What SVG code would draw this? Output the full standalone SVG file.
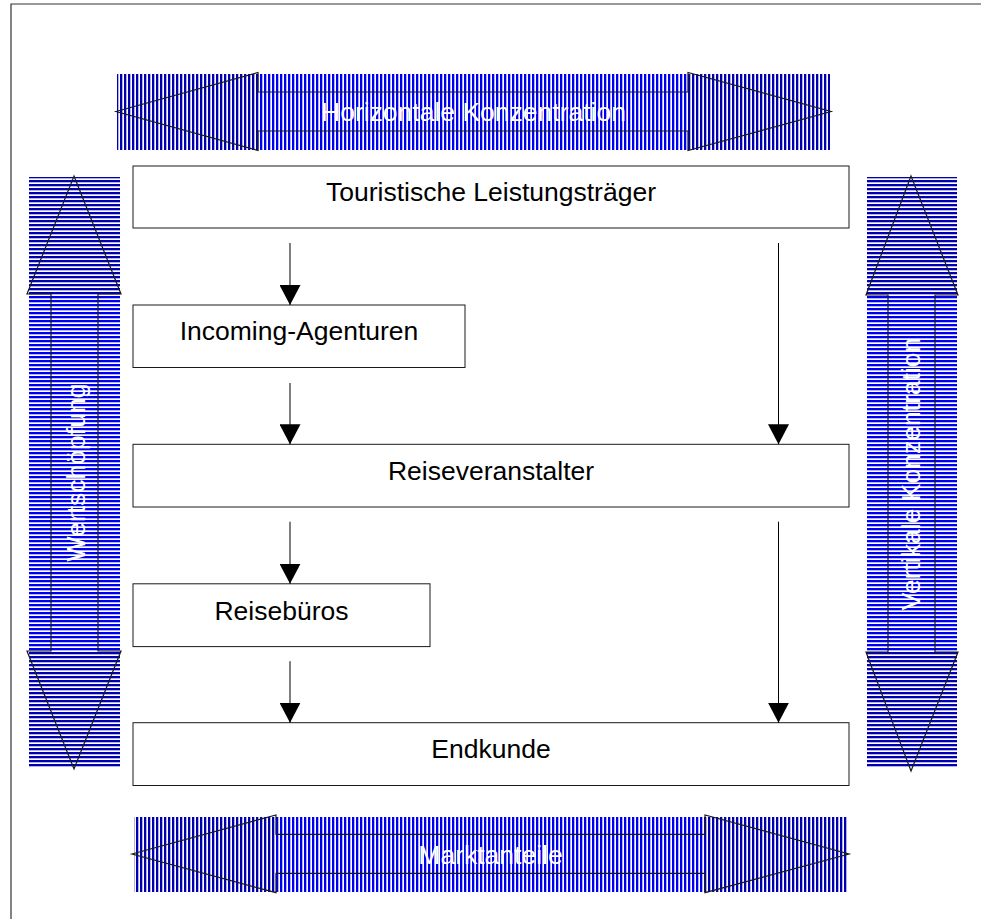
<svg xmlns="http://www.w3.org/2000/svg" width="981" height="919" viewBox="0 0 981 919">
<defs>
<style>
.box{fill:#fff;stroke:#1a1a1a;stroke-width:1}
.lbl{font-family:"Liberation Sans",Arial,sans-serif;font-size:26.5px;fill:#000;text-anchor:middle}
.wl{font-family:"Liberation Sans",Arial,sans-serif;font-size:26.5px;fill:#fff;text-anchor:middle}
.out{fill:none;stroke:#1a1a1a;stroke-width:1.2}
.con{stroke:#000;stroke-width:1;fill:none}
</style>
<pattern id="vDark" width="4" height="4" patternUnits="userSpaceOnUse"><rect width="2.3" height="4" fill="#0000b0"/></pattern>
<pattern id="vBright" width="4" height="4" patternUnits="userSpaceOnUse"><rect width="2.3" height="4" fill="#0000f0"/></pattern>
<pattern id="hDark" width="4" height="4" patternUnits="userSpaceOnUse"><rect width="4" height="2.3" fill="#0000b0"/></pattern>
<pattern id="hBright" width="4" height="4" patternUnits="userSpaceOnUse"><rect width="4" height="2.3" fill="#0000f0"/></pattern>
<marker id="ah" viewBox="0 0 20 21" refX="20" refY="10.5" markerWidth="20" markerHeight="21" markerUnits="userSpaceOnUse" orient="auto">
<path d="M0,0 L20,10.5 L0,21 z" fill="#000"/>
</marker>
</defs>

<g id="frame">
<path d="M11,919 V4 H981" fill="none" stroke="#333" stroke-width="1.2"/>
</g>

<g id="arrow-top">
<rect x="117" y="74" width="141" height="76" fill="url(#vDark)"/>
<rect x="258" y="74" width="430" height="76" fill="url(#vBright)"/>
<rect x="688" y="74" width="142" height="76" fill="url(#vDark)"/>
<polygon class="out" points="116,111.5 258,72.5 258,92 688,92 688,72.5 831,111.5 688,150.5 688,131 258,131 258,150.5"/>
<text class="wl" x="473.5" y="120.5">Horizontale Konzentration</text>
</g>

<g id="arrow-bottom">
<rect x="134" y="817" width="142" height="75" fill="url(#vDark)"/>
<rect x="276" y="817" width="429" height="75" fill="url(#vBright)"/>
<rect x="705" y="817" width="143" height="75" fill="url(#vDark)"/>
<polygon class="out" points="132,854 276,815 276,834.3 705,834.3 705,815 849,854 705,892.7 705,873.3 276,873.3 276,892.7"/>
<text class="wl" x="490.5" y="863.5">Marktanteile</text>
</g>

<g id="arrow-left">
<rect x="29" y="177" width="91" height="117" fill="url(#hDark)"/>
<rect x="29" y="294" width="91" height="357" fill="url(#hBright)"/>
<rect x="29" y="651" width="91" height="116" fill="url(#hDark)"/>
<polygon class="out" points="74,176 121,294 98,294 98,651 121,651 74,769 27,651 51,651 51,294 27,294"/>
<text class="wl" transform="translate(75.5,472.5) rotate(-90)" x="0" y="9.5">Wertschöpfung</text>
</g>

<g id="arrow-right">
<rect x="867" y="177" width="90" height="118" fill="url(#hDark)"/>
<rect x="867" y="295" width="90" height="357" fill="url(#hBright)"/>
<rect x="867" y="652" width="90" height="116" fill="url(#hDark)"/>
<polygon class="out" points="911,176 958,295 935,295 935,652 958,652 911,771 866,652 888,652 888,295 866,295"/>
<text class="wl" transform="translate(910.5,474) rotate(-90)" x="0" y="9.5">Vertikale Konzentration</text>
</g>

<g id="node-leistungstraeger">
<rect class="box" x="133" y="166" width="716" height="62"/>
<text class="lbl" x="491" y="201">Touristische Leistungsträger</text>
</g>
<g id="node-incoming">
<rect class="box" x="133" y="305" width="332" height="62.5"/>
<text class="lbl" x="299" y="340">Incoming-Agenturen</text>
</g>
<g id="node-veranstalter">
<rect class="box" x="133" y="444.3" width="716" height="62.7"/>
<text class="lbl" x="491" y="479.5">Reiseveranstalter</text>
</g>
<g id="node-reisebueros">
<rect class="box" x="133" y="583.8" width="297" height="62.8"/>
<text class="lbl" x="281.5" y="619.5">Reisebüros</text>
</g>
<g id="node-endkunde">
<rect class="box" x="133" y="722.7" width="716" height="62.8"/>
<text class="lbl" x="491" y="758">Endkunde</text>
</g>

<g id="connectors">
<line class="con" x1="290" y1="243" x2="290" y2="305" marker-end="url(#ah)"/>
<line class="con" x1="290" y1="383" x2="290" y2="444.3" marker-end="url(#ah)"/>
<line class="con" x1="290" y1="521.7" x2="290" y2="583.8" marker-end="url(#ah)"/>
<line class="con" x1="290" y1="661.2" x2="290" y2="722.7" marker-end="url(#ah)"/>
<line class="con" x1="778.5" y1="243" x2="778.5" y2="444.3" marker-end="url(#ah)"/>
<line class="con" x1="778.5" y1="521.7" x2="778.5" y2="722.7" marker-end="url(#ah)"/>
</g>
</svg>
